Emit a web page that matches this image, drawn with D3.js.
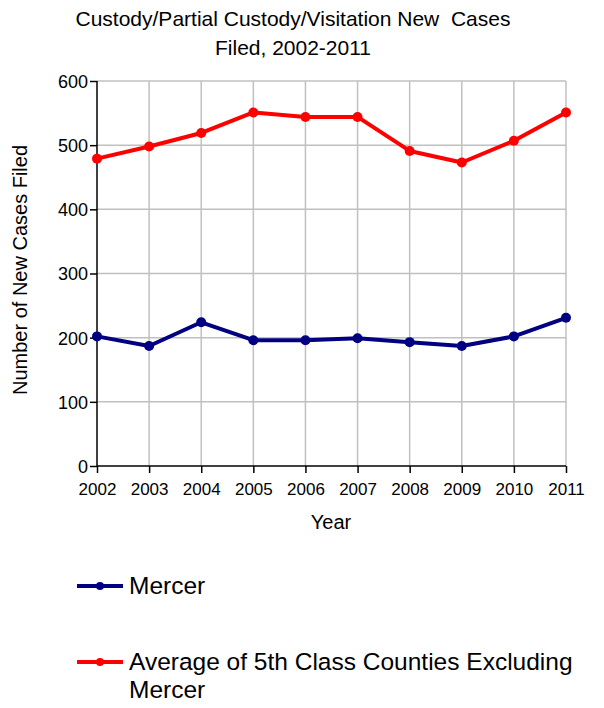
<!DOCTYPE html>
<html>
<head>
<meta charset="utf-8">
<script src="https://cdn.jsdelivr.net/npm/d3@7"></script>
<style>
  html, body { margin: 0; padding: 0; background: #fff; }
  svg { display: block; }
  text { font-family: "Liberation Sans", Arial, sans-serif; fill: #000; }
</style>
</head>
<body>
<svg id="chart" width="604" height="708"></svg>
<script>
const years = ["2002","2003","2004","2005","2006","2007","2008","2009","2010","2011"];
const mercer = [202, 187, 224, 196, 196, 199, 193, 187, 202, 231];
const average = [479, 498, 519, 551, 544, 544, 491, 473, 507, 551];
const yTicks = [0, 100, 200, 300, 400, 500, 600];
const titleLines = ["Custody/Partial Custody/Visitation New  Cases", "Filed, 2002-2011"];
const seriesNames = ["Mercer", "Average of 5th Class Counties Excluding", "Mercer"];

const svg = d3.select("#chart");
const pLeft = 97, pRight = 566, pTop = 81, pBottom = 466;

const x = d3.scalePoint().domain(years).range([pLeft, pRight]);
const y = d3.scaleLinear().domain([0, 600]).range([pBottom, pTop]);

// grid
const grid = svg.append("g");
grid.selectAll(".hg").data(yTicks.filter(d => d > 0)).join("line")
  .attr("x1", pLeft).attr("x2", pRight)
  .attr("y1", d => y(d)).attr("y2", d => y(d))
  .attr("stroke", "#c0c0c0").attr("stroke-width", 1.5);
grid.selectAll(".vg").data(years.slice(1)).join("line")
  .attr("x1", d => x(d)).attr("x2", d => x(d))
  .attr("y1", pTop).attr("y2", pBottom)
  .attr("stroke", "#c0c0c0").attr("stroke-width", 1.5);

// axes
const yAxis = svg.append("g").attr("transform", `translate(${pLeft},0)`)
  .call(d3.axisLeft(y).tickValues(yTicks).tickSize(7).tickPadding(2).tickFormat(d3.format("d")));
yAxis.select(".domain").attr("stroke", "#000").attr("stroke-width", 1.5).attr("d", `M0,${pTop}V${pBottom}`);
yAxis.selectAll(".tick line").attr("stroke", "#000").attr("stroke-width", 1.5);
yAxis.selectAll(".tick text").attr("font-size", 18).attr("font-family", "Liberation Sans, Arial, sans-serif").attr("fill", "#000").attr("dy", "0.36em");

const xAxis = svg.append("g").attr("transform", `translate(0,${pBottom})`)
  .call(d3.axisBottom(x).tickSize(7).tickPadding(10));
xAxis.select(".domain").attr("stroke", "#000").attr("stroke-width", 1.5).attr("d", `M${pLeft},0H${pRight}`);
xAxis.selectAll(".tick line").attr("stroke", "#000").attr("stroke-width", 1.5);
xAxis.selectAll(".tick text").attr("font-size", 17).attr("font-family", "Liberation Sans, Arial, sans-serif").attr("fill", "#000");

// lines
const line = d3.line().x((d, i) => x(years[i])).y(d => y(d));
const series = [
  { name: "Mercer", values: mercer, color: "#000080" },
  { name: "Average", values: average, color: "#ff0000" }
];
series.forEach(s => {
  svg.append("path").datum(s.values)
    .attr("d", line).attr("fill", "none")
    .attr("stroke", s.color).attr("stroke-width", 4).attr("stroke-linejoin", "round");
  svg.append("g").selectAll("circle").data(s.values).join("circle")
    .attr("cx", (d, i) => x(years[i])).attr("cy", d => y(d))
    .attr("r", 5).attr("fill", s.color);
});

// title
svg.append("text").attr("x", 293).attr("y", 26).attr("text-anchor", "middle")
  .attr("font-size", 21).style("white-space", "pre").text(titleLines[0]);
svg.append("text").attr("x", 293).attr("y", 55).attr("text-anchor", "middle")
  .attr("font-size", 21).text(titleLines[1]);

// axis titles
svg.append("text").attr("x", 331).attr("y", 529).attr("text-anchor", "middle")
  .attr("font-size", 20).text("Year");
svg.append("text").attr("transform", "translate(27,270) rotate(-90)")
  .attr("text-anchor", "middle").attr("font-size", 20).text("Number of New Cases Filed");

// legend
const leg = [
  { color: "#000080", y: 586, lines: [seriesNames[0]] },
  { color: "#ff0000", y: 662, lines: [seriesNames[1], seriesNames[2]] }
];
leg.forEach(l => {
  svg.append("line").attr("x1", 77).attr("x2", 123).attr("y1", l.y).attr("y2", l.y)
    .attr("stroke", l.color).attr("stroke-width", 4);
  svg.append("circle").attr("cx", 100).attr("cy", l.y).attr("r", 4).attr("fill", l.color);
  l.lines.forEach((t, i) => {
    svg.append("text").attr("x", 129).attr("y", l.y + 8 + i * 28)
      .attr("font-size", 24.5).text(t);
  });
});
</script>
</body>
</html>
